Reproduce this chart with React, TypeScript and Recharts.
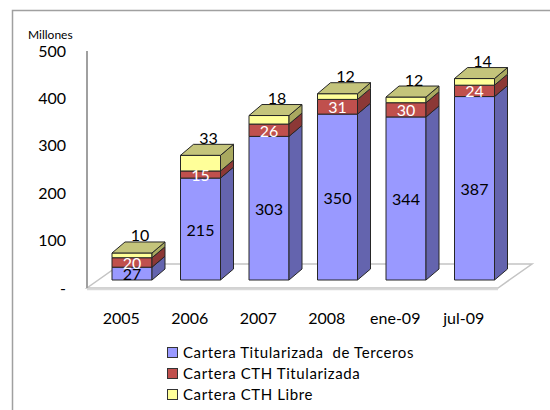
import { Bar, BarChart, LabelList, XAxis, YAxis } from "recharts";

const categories = ["2005", "2006", "2007", "2008", "ene-09", "jul-09"];
const terceros = [27, 215, 303, 350, 344, 387];
const cthTitularizada = [20, 15, 26, 31, 30, 24];
const cthLibre = [10, 33, 18, 12, 12, 14];
const yTicks = [0, 100, 200, 300, 400, 500];

const FONT = "Lato, 'Open Sans', sans-serif";
// 3D look: bars are pushed back onto the floor, with a side and top face
const SHIFT_X = 11;
const SHIFT_Y = -8;
const DEPTH_X = 13;
const DEPTH_Y = -11;

const series = [
  {
    key: "terceros",
    label: "Cartera Titularizada  de Terceros",
    front: "#9999ff",
    side: "#6464ae",
    top: null,
  },
  {
    key: "cthTit",
    label: "Cartera CTH Titularizada",
    front: "#c0504d",
    side: "#8c3836",
    top: null,
  },
  {
    key: "cthLibre",
    label: "Cartera CTH Libre",
    front: "#ffff99",
    side: "#a9a95f",
    top: "#c4c47b",
  },
] as const;

const data = categories.map((cat, i) => ({
  cat,
  terceros: terceros[i],
  cthTit: cthTitularizada[i],
  cthLibre: cthLibre[i],
}));

function make3DShape(front: string, side: string, top: string | null) {
  return function Shape(props: any) {
    const { x, y, width, height } = props;
    if (x == null || !height) return null;
    const fx = x + SHIFT_X;
    const fy = y + SHIFT_Y;
    const r = fx + width;
    const b = fy + height;
    return (
      <g stroke="#262626" strokeWidth={1} strokeLinejoin="round">
        <rect x={fx} y={fy} width={width} height={height} fill={front} />
        <polygon
          points={`${r},${fy} ${r + DEPTH_X},${fy + DEPTH_Y} ${r + DEPTH_X},${b + DEPTH_Y} ${r},${b}`}
          fill={side}
        />
        {top && (
          <polygon
            points={`${fx},${fy} ${fx + DEPTH_X},${fy + DEPTH_Y} ${r + DEPTH_X},${fy + DEPTH_Y} ${r},${fy}`}
            fill={top}
          />
        )}
      </g>
    );
  };
}

function insideLabel(color: string) {
  return function InsideLabel(props: any) {
    const { x, y, width, height, value } = props;
    return (
      <text
        x={x + SHIFT_X + width / 2}
        y={y + SHIFT_Y + height / 2}
        textAnchor="middle"
        dominantBaseline="central"
        fill={color}
        fontSize={16}
        fontFamily={FONT}
      >
        {value}
      </text>
    );
  };
}

function TopLabel(props: any) {
  const { x, y, width, value } = props;
  return (
    <text
      x={x + SHIFT_X + width / 2 + 8}
      y={y + SHIFT_Y - 18}
      textAnchor="middle"
      dominantBaseline="central"
      fill="#000"
      fontSize={16}
      fontFamily={FONT}
    >
      {value}
    </text>
  );
}

function Backdrop() {
  return (
    <svg
      width={550}
      height={410}
      style={{ position: "absolute", left: 0, top: 0 }}
    >
      <rect
        x={12.5}
        y={10.5}
        width={600}
        height={500}
        fill="#fff"
        stroke="#a0a0a0"
        strokeWidth={1.5}
      />
      <polygon
        points="87,288 498,288 532,264 121,264"
        fill="#fff"
        stroke="#c4c4c4"
        strokeWidth={1.5}
      />
      <line x1={87} y1={289.5} x2={498} y2={289.5} stroke="#d9d9d9" strokeWidth={1.5} />
      <text x={28} y={39} fontSize={12} fontFamily={FONT} fill="#000">
        Millones
      </text>
    </svg>
  );
}

export default function App() {
  return (
    <div
      style={{
        position: "absolute",
        left: 0,
        top: 0,
        width: 550,
        height: 410,
        fontFamily: FONT,
        overflow: "hidden",
      }}
    >
      <Backdrop />
      <div style={{ position: "absolute", left: 0, top: 0 }}>
        <BarChart
          width={550}
          height={410}
          data={data}
          margin={{ top: 51, right: 52, bottom: 92, left: 27 }}
          barSize={40}
        >
          <XAxis
            dataKey="cat"
            axisLine={false}
            tickLine={false}
            tickSize={0}
            tickMargin={25}
            height={30}
            tick={{ fill: "#000", fontSize: 16, fontFamily: FONT }}
          />
          <YAxis
            domain={[0, 500]}
            ticks={yTicks}
            interval={0}
            width={60}
            tickLine={false}
            tickSize={0}
            tickMargin={21}
            axisLine={{ stroke: "#a0a0a0", strokeWidth: 2 }}
            tickFormatter={(v: number) => (v === 0 ? "-" : String(v))}
            tick={{ fill: "#000", fontSize: 16, fontFamily: FONT }}
          />
          {series.map((s, i) => (
            <Bar
              key={s.key}
              dataKey={s.key}
              stackId="a"
              fill={s.front}
              shape={make3DShape(s.front, s.side, s.top)}
              isAnimationActive={false}
            >
              <LabelList
                dataKey={s.key}
                content={
                  i === 0
                    ? insideLabel("#000")
                    : i === 1
                    ? insideLabel("#fff")
                    : TopLabel
                }
              />
            </Bar>
          ))}
        </BarChart>
      </div>
      <div
        style={{
          position: "absolute",
          left: 167,
          top: 342,
          fontSize: 15,
          letterSpacing: "0.6px",
          color: "#000",
          lineHeight: "21px",
        }}
      >
        {series.map((s) => (
          <div key={s.key} style={{ display: "flex", alignItems: "center" }}>
            <span
              style={{
                width: 9,
                height: 9,
                border: "1px solid #333",
                background: s.front,
                marginRight: 5,
              }}
            />
            <span style={{ whiteSpace: "pre" }}>{s.label}</span>
          </div>
        ))}
      </div>
    </div>
  );
}
